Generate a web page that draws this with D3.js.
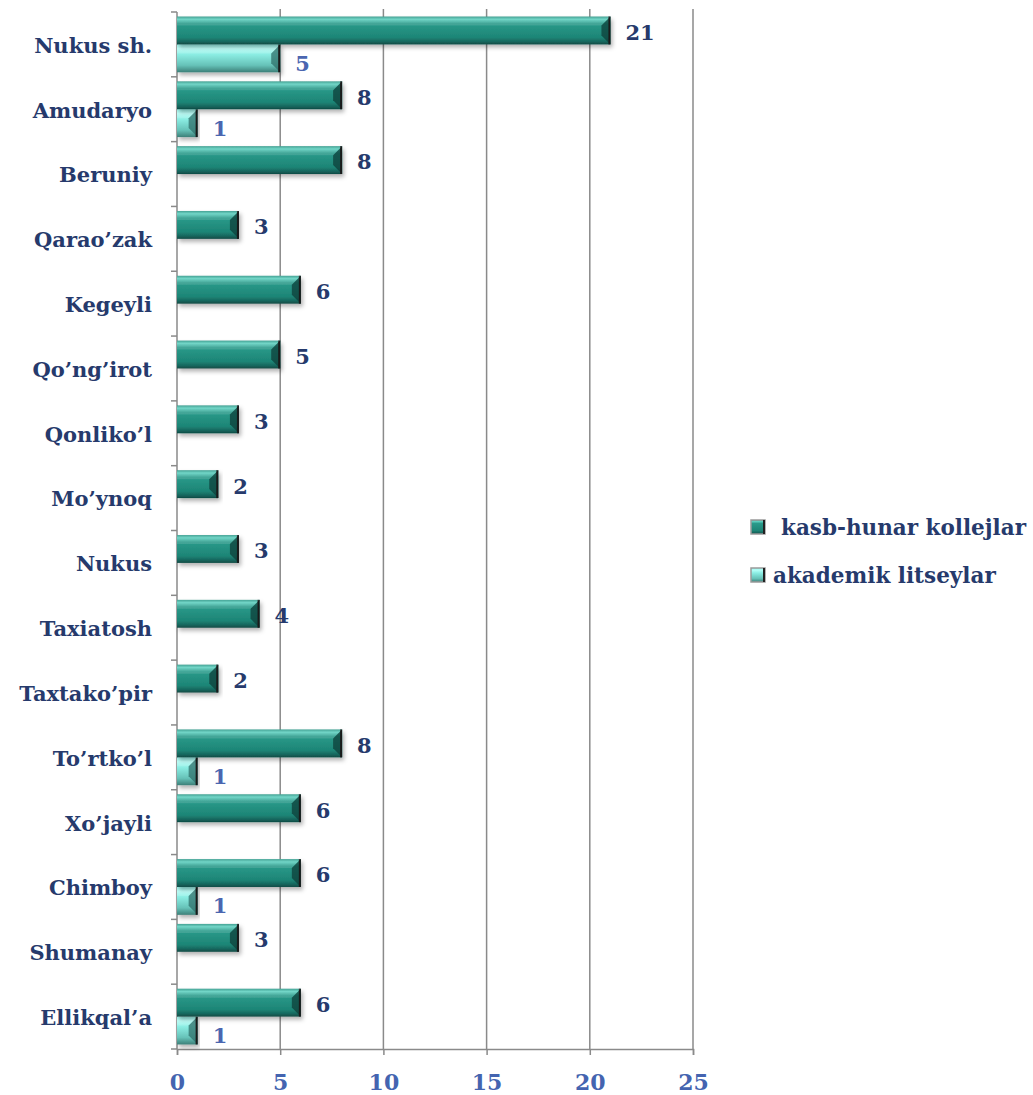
<!DOCTYPE html>
<html>
<head>
<meta charset="utf-8">
<script src="https://cdn.jsdelivr.net/npm/d3@7"></script>
<style>
  body { margin: 0; background: #fff; }
  svg { display: block; }
  text { font-family: "DejaVu Serif", serif; font-weight: bold; }
</style>
</head>
<body>
<svg width="1033" height="1095"></svg>
<script>
// districts, top to bottom
var districts = ["Nukus sh.", "Amudaryo", "Beruniy", "Qarao\u2019zak", "Kegeyli", "Qo\u2019ng\u2019irot",
  "Qonliko\u2019l", "Mo\u2019ynoq", "Nukus", "Taxiatosh", "Taxtako\u2019pir", "To\u2019rtko\u2019l",
  "Xo\u2019jayli", "Chimboy", "Shumanay", "Ellikqal\u2019a"];
var kasbHunar = [21, 8, 8, 3, 6, 5, 3, 2, 3, 4, 2, 8, 6, 6, 3, 6];
var akademik  = [5, 1, 0, 0, 0, 0, 0, 0, 0, 0, 0, 1, 0, 1, 0, 1];
var seriesNames = ["kasb-hunar kollejlar", "akademik litseylar"];
var xTicks = [0, 5, 10, 15, 20, 25];

var margin = {top: 12, right: 340, bottom: 46, left: 177},
    width = 1033 - margin.left - margin.right,
    height = 1095 - margin.top - margin.bottom;

var svg = d3.select("svg");
var defs = svg.append("defs");

function grad(id, stops) {
  var g = defs.append("linearGradient").attr("id", id)
    .attr("x1", 0).attr("y1", 0).attr("x2", 0).attr("y2", 1);
  stops.forEach(function(s) {
    g.append("stop").attr("offset", s[0]).attr("stop-color", s[1]);
  });
}
grad("gDark", [[0, "#2a9585"], [0.1, "#5fd0c0"], [0.25, "#2a9a8a"], [0.75, "#1d8576"], [0.9, "#17665d"], [1, "#0f4a44"]]);
grad("gLight", [[0, "#8ff5ea"], [0.15, "#b6fff8"], [0.35, "#8ceee4"], [0.75, "#66c2b8"], [1, "#3c7f78"]]);

var f = defs.append("filter").attr("id", "shadow")
  .attr("x", "-5%").attr("y", "-20%").attr("width", "115%").attr("height", "160%");
f.append("feDropShadow").attr("dx", 2).attr("dy", 3).attr("stdDeviation", 2)
  .attr("flood-color", "#000").attr("flood-opacity", 0.3);

var g = svg.append("g").attr("transform", "translate(" + margin.left + "," + margin.top + ")");

var x = d3.scaleLinear().domain([0, 25]).range([0, width]);
var y = d3.scaleBand().domain(districts).range([0, height]).paddingInner(0.14).paddingOuter(0.07);
var sub = d3.scaleBand().domain([0, 1]).range([0, y.bandwidth()]);

// gridlines
g.selectAll(".grid").data(xTicks.slice(1)).enter().append("line")
  .attr("x1", function(d) { return x(d); }).attr("x2", function(d) { return x(d); })
  .attr("y1", -3).attr("y2", height)
  .attr("stroke", "#8a8a8a").attr("stroke-width", 1.5);

// bottom axis
var xAxis = g.append("g").attr("transform", "translate(0," + height + ")")
  .call(d3.axisBottom(x).tickValues(xTicks).tickSize(6).tickPadding(19));
xAxis.select(".domain").attr("stroke", "#8a8a8a").attr("stroke-width", 1.5);
xAxis.selectAll(".tick line").attr("stroke", "#8a8a8a").attr("stroke-width", 1.5);
xAxis.selectAll("text").attr("fill", "#4464b0").style("font-size", "22px")
  .style("font-family", "DejaVu Serif, serif").style("font-weight", "bold");

// left axis line with ticks at band boundaries
g.append("line").attr("x1", 0).attr("x2", 0).attr("y1", 0).attr("y2", height)
  .attr("stroke", "#8a8a8a").attr("stroke-width", 1.5);
g.selectAll(".ltick").data(d3.range(districts.length + 1)).enter().append("line")
  .attr("x1", -6).attr("x2", 0)
  .attr("y1", function(i) { return i * y.step(); }).attr("y2", function(i) { return i * y.step(); })
  .attr("stroke", "#8a8a8a").attr("stroke-width", 1.5);

// category labels
g.selectAll(".cat").data(districts).enter().append("text")
  .attr("x", -25).attr("y", function(d) { return y(d) + y.bandwidth() / 2 + 1; })
  .attr("dy", "0.35em").attr("text-anchor", "end")
  .attr("fill", "#263a6c").style("font-size", "21px")
  .text(function(d) { return d; });

function drawBars(values, si, fill, edge, labelColor) {
  var data = districts.map(function(d, i) { return {cat: d, v: values[i]}; })
    .filter(function(d) { return d.v > 0; });
  var bh = sub.bandwidth();
  var bars = g.selectAll(".bar" + si).data(data).enter().append("g")
    .attr("transform", function(d) { return "translate(0," + (y(d.cat) + sub(si)) + ")"; });
  bars.append("rect").attr("x", 0).attr("y", 0)
    .attr("width", function(d) { return x(d.v); }).attr("height", bh)
    .attr("fill", fill).attr("filter", "url(#shadow)");
  // bevel at right end
  bars.append("path")
    .attr("d", function(d) {
      var w = x(d.v), b = Math.min(9, w / 2);
      return "M" + (w - b) + "," + b + "L" + w + ",0L" + w + "," + bh + "L" + (w - b) + "," + (bh - b) + "Z";
    })
    .attr("fill", edge).attr("opacity", 0.75);
  bars.append("line")
    .attr("x1", function(d) { return x(d.v) - 1; }).attr("x2", function(d) { return x(d.v) - 1; })
    .attr("y1", 0).attr("y2", bh).attr("stroke", "#1a1a1a").attr("stroke-width", 2);
  // top highlight bevel
  bars.append("path")
    .attr("d", function(d) {
      var w = x(d.v), b = Math.min(9, w / 2);
      return "M0,0L" + w + ",0L" + (w - b) + "," + b + "L0," + b + "Z";
    })
    .attr("fill", "#ffffff").attr("opacity", 0.12);
  bars.append("text")
    .attr("x", function(d) { return x(d.v) + 15; })
    .attr("y", bh / 2 + (si ? 5 : 2)).attr("dy", "0.35em")
    .attr("fill", labelColor).style("font-size", "21px")
    .text(function(d) { return d.v; });
}
drawBars(akademik, 1, "url(#gLight)", "#2f6f69", "#4a66b0");
drawBars(kasbHunar, 0, "url(#gDark)", "#0d3f3a", "#263a6c");

// legend
var legend = svg.append("g").attr("transform", "translate(751,520)");
var lfill = ["url(#gDark)", "url(#gLight)"];
seriesNames.forEach(function(name, i) {
  var row = legend.append("g").attr("transform", "translate(0," + (i * 48) + ")");
  row.append("rect").attr("x", 0).attr("y", 0).attr("width", 14).attr("height", 14)
    .attr("fill", lfill[i]).attr("stroke", "#9a9a9a").attr("stroke-width", 1.5);
  row.append("line").attr("x1", 13).attr("x2", 13).attr("y1", 0).attr("y2", 14)
    .attr("stroke", "#222").attr("stroke-width", 2);
  row.append("text").attr("x", i === 0 ? 30 : 22).attr("y", 7).attr("dy", "0.35em")
    .attr("fill", "#263a6c").style("font-size", "21.5px").text(name);
});
</script>
</body>
</html>
